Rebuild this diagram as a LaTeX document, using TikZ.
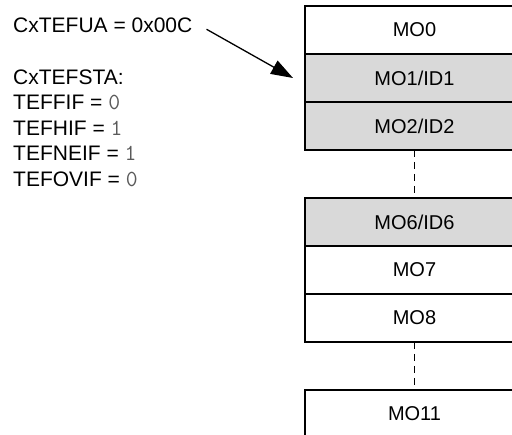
\documentclass[tikz,border=0pt]{standalone}
\usepackage{fontspec}
\setmainfont{Liberation Sans}
\setmonofont{Latin Modern Mono}
\usetikzlibrary{arrows.meta,positioning}
\definecolor{cellgray}{RGB}{217,217,217}
\definecolor{valgray}{RGB}{90,90,90}
\tikzset{
  >={Triangle[length=22pt,width=15pt]},
  cell/.style={draw,line width=2pt,fill=#1,outer sep=0pt,inner sep=0pt,
    minimum width=219pt,minimum height=48pt,font=\fontsize{20}{24}\selectfont},
  cell/.default=white,
  lbl/.style={inner sep=0pt,font=\fontsize{21}{25}\selectfont},
  gap/.style={line width=1.3pt,dash pattern=on 7pt off 5pt},
  pointer/.style={->,line width=1.3pt},
}
\newcommand{\regval}[1]{{\color{valgray}\ttfamily\fontsize{23}{25}\selectfont #1}}

\begin{document}
\begin{tikzpicture}[x=1pt,y=-1pt]
    \clip (0,0) rectangle (512,435);
    % message object stack
    \node[cell] (mo0) at (414.5,30) {MO0};
    \node[cell=cellgray,below=0pt of mo0] (mo1) {MO1/ID1};
    \node[cell=cellgray,below=0pt of mo1] (mo2) {MO2/ID2};
    \node[cell=cellgray,below=48pt of mo2] (mo6) {MO6/ID6};
    \node[cell,below=0pt of mo6] (mo7) {MO7};
    \node[cell,below=0pt of mo7] (mo8) {MO8};
    \node[cell,below=48pt of mo8] (mo11) {MO11};
    \draw[gap] (mo2.south) -- (mo6.north);
    \draw[gap] (mo8.south) -- (mo11.north);
    % registers
    \node[lbl,anchor=base west] (ua) at (13,32.5) {CxTEFUA = 0x00C};
    \node[lbl,anchor=base west] (sta) at (13,84.5) {CxTEFSTA:};
    \foreach \f/\v [count=\k] in {TEFFIF/0,TEFHIF/1,TEFNEIF/1,TEFOVIF/0}
      \node[lbl,anchor=base west] (flag\k) at (13,{84.5+25.5*\k}) {\f{} = \regval{\v}};
    \draw[pointer] ([xshift=14pt,yshift=-4pt]ua.east) -- ([xshift=-12pt]mo1.west);
\end{tikzpicture}
\end{document}
